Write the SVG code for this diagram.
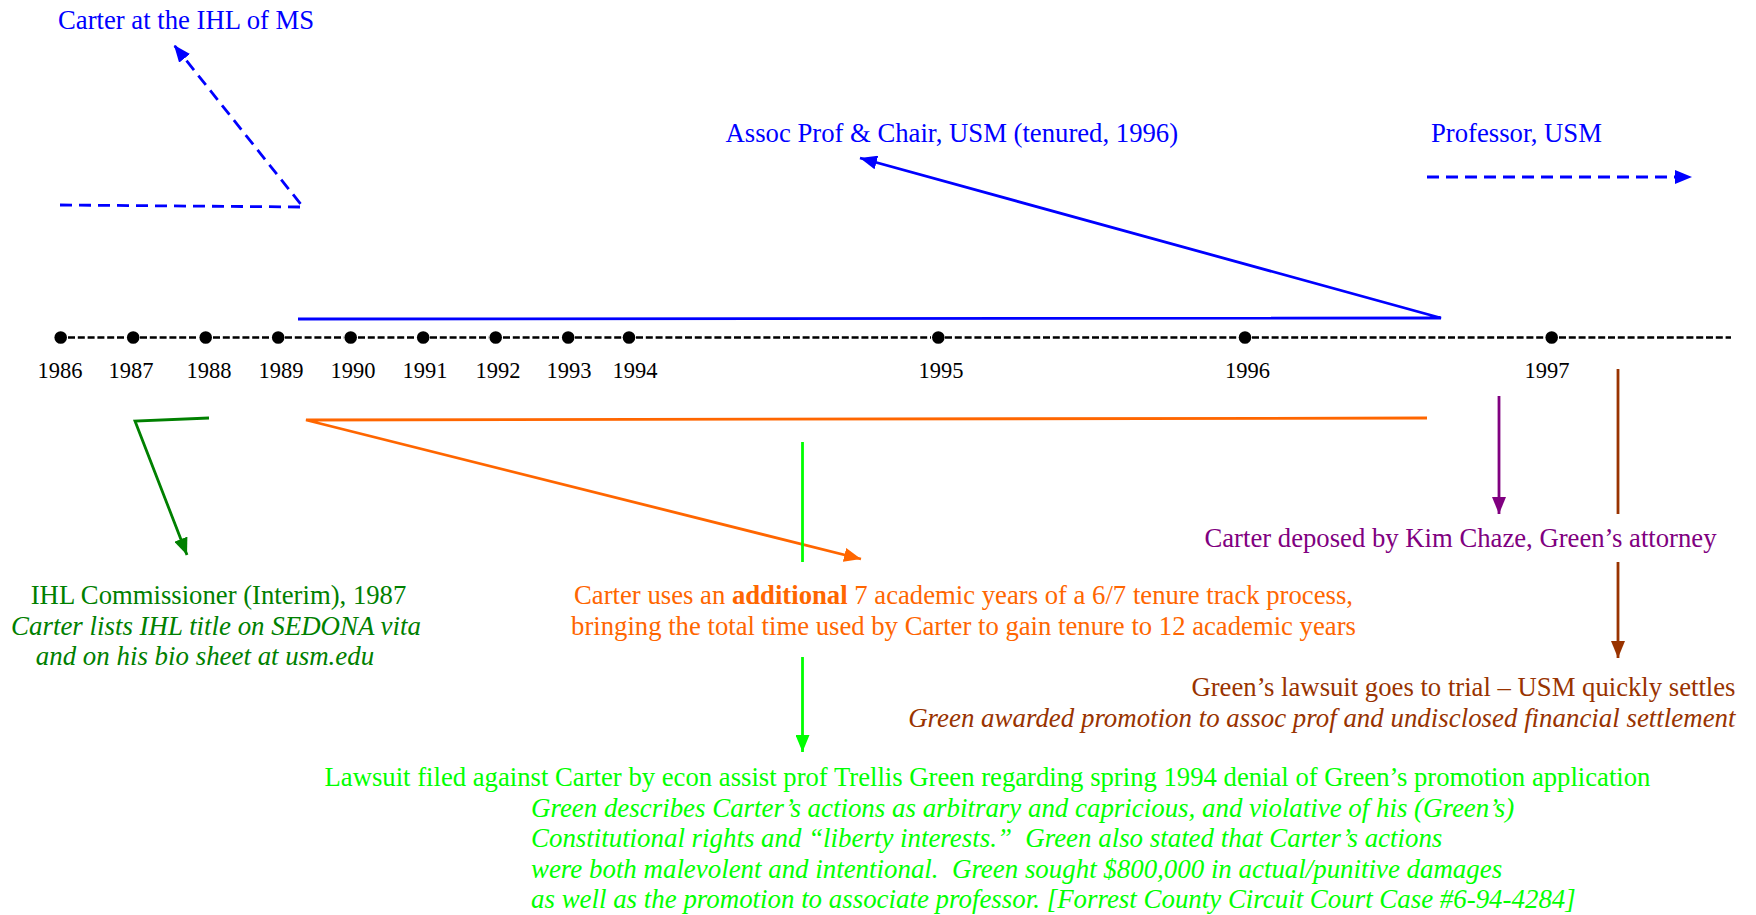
<svg xmlns="http://www.w3.org/2000/svg" width="1756" height="915" viewBox="0 0 1756 915">
<style>
text{font-family:"Liberation Serif","Times New Roman",serif;font-size:26.7px}
.yr{font-size:22.5px;fill:#000;text-anchor:middle}
.blue{fill:#0000FF}
.it{font-style:italic;font-size:26.9px}
.tl{stroke:#000;stroke-width:2.4;stroke-dasharray:7 2.8;fill:none}
.ln{fill:none;stroke-width:2.8}
</style>
<defs>
<marker id="aB" markerUnits="userSpaceOnUse" markerWidth="18" markerHeight="14" refX="17" refY="7" orient="auto"><path d="M0,0 L17,7 L0,14 z" fill="#0000FF"/></marker>
<marker id="aG" markerUnits="userSpaceOnUse" markerWidth="18" markerHeight="14" refX="17" refY="7" orient="auto"><path d="M0,0 L17,7 L0,14 z" fill="#008000"/></marker>
<marker id="aO" markerUnits="userSpaceOnUse" markerWidth="18" markerHeight="14" refX="17" refY="7" orient="auto"><path d="M0,0 L17,7 L0,14 z" fill="#FF6600"/></marker>
<marker id="aL" markerUnits="userSpaceOnUse" markerWidth="18" markerHeight="14" refX="17" refY="7" orient="auto"><path d="M0,0 L17,7 L0,14 z" fill="#00FF00"/></marker>
<marker id="aP" markerUnits="userSpaceOnUse" markerWidth="18" markerHeight="14" refX="17" refY="7" orient="auto"><path d="M0,0 L17,7 L0,14 z" fill="#800080"/></marker>
<marker id="aR" markerUnits="userSpaceOnUse" markerWidth="18" markerHeight="14" refX="17" refY="7" orient="auto"><path d="M0,0 L17,7 L0,14 z" fill="#993300"/></marker>
</defs>
<rect width="1756" height="915" fill="#fff"/>

<g id="timeline">
<path class="tl" d="M68,337.5 H126 M140,337.5 H198 M213,337.5 H271 M285,337.5 H344 M358,337.5 H416 M430,337.5 H489 M503,337.5 H561 M575,337.5 H622 M636,337.5 H931 M945,337.5 H1238 M1252,337.5 H1545 M1559,337.5 H1731"/>
<g fill="#000">
<circle cx="60.7" cy="337.5" r="6.3"/><circle cx="133.2" cy="337.5" r="6.3"/><circle cx="205.7" cy="337.5" r="6.3"/><circle cx="278.2" cy="337.5" r="6.3"/><circle cx="350.7" cy="337.5" r="6.3"/><circle cx="423.2" cy="337.5" r="6.3"/><circle cx="495.7" cy="337.5" r="6.3"/><circle cx="568.2" cy="337.5" r="6.3"/><circle cx="629" cy="337.5" r="6.3"/><circle cx="938.3" cy="337.5" r="6.3"/><circle cx="1245" cy="337.5" r="6.3"/><circle cx="1551.7" cy="337.5" r="6.3"/>
</g>
<text class="yr" x="60" y="378">1986</text>
<text class="yr" x="131" y="378">1987</text>
<text class="yr" x="209" y="378">1988</text>
<text class="yr" x="281" y="378">1989</text>
<text class="yr" x="353" y="378">1990</text>
<text class="yr" x="425" y="378">1991</text>
<text class="yr" x="498" y="378">1992</text>
<text class="yr" x="569" y="378">1993</text>
<text class="yr" x="635" y="378">1994</text>
<text class="yr" x="941" y="378">1995</text>
<text class="yr" x="1247.5" y="378">1996</text>
<text class="yr" x="1547" y="378">1997</text>
</g>

<g id="connectors">
<path class="ln" stroke="#0000FF" stroke-width="3" stroke-dasharray="12 7" d="M60,205 L303,207 L174,45" marker-end="url(#aB)"/>
<path class="ln" stroke="#0000FF" d="M298,319 L1441,318 L860,158" marker-end="url(#aB)"/>
<path class="ln" stroke="#0000FF" stroke-width="3" stroke-dasharray="12 7" d="M1427,177 L1692,177" marker-end="url(#aB)"/>
<path class="ln" stroke="#008000" d="M209,418 L135,421 L187,555" marker-end="url(#aG)"/>
<path class="ln" stroke="#FF6600" d="M1427,418 L306,420 L861,559" marker-end="url(#aO)"/>
<path class="ln" stroke="#00FF00" stroke-width="2.4" d="M802.5,442 V562"/>
<path class="ln" stroke="#00FF00" stroke-width="2.4" d="M802.5,657 V752" marker-end="url(#aL)"/>
<path class="ln" stroke="#800080" d="M1499,396 V514" marker-end="url(#aP)"/>
<path class="ln" stroke="#993300" d="M1618,369 V514"/>
<path class="ln" stroke="#993300" d="M1618,562 V658" marker-end="url(#aR)"/>
</g>

<g id="ihl-ms">
<text class="blue" x="58" y="29">Carter at the IHL of MS</text>
</g>
<g id="assoc-prof">
<text class="blue" x="725.5" y="142">Assoc Prof &amp; Chair, USM (tenured, 1996)</text>
</g>
<g id="professor">
<text class="blue" x="1431" y="142">Professor, USM</text>
</g>
<g id="ihl-commissioner" fill="#008000" text-anchor="middle">
<text x="218.5" y="604">IHL Commissioner (Interim), 1987</text>
<text class="it" x="216" y="635">Carter lists IHL title on SEDONA vita</text>
<text class="it" x="205" y="665">and on his bio sheet at usm.edu</text>
</g>
<g id="tenure" fill="#FF6600" text-anchor="middle">
<text x="963.5" y="604">Carter uses an <tspan font-weight="bold">additional</tspan> 7 academic years of a 6/7 tenure track process,</text>
<text x="963.5" y="635">bringing the total time used by Carter to gain tenure to 12 academic years</text>
</g>
<g id="deposed" fill="#800080">
<text x="1460.5" y="547" text-anchor="middle">Carter deposed by Kim Chaze, Green’s attorney</text>
</g>
<g id="trial" fill="#993300" text-anchor="end">
<text x="1735.5" y="696">Green’s lawsuit goes to trial – USM quickly settles</text>
<text class="it" x="1735.5" y="727">Green awarded promotion to assoc prof and undisclosed financial settlement</text>
</g>
<g id="lawsuit" fill="#00FF00">
<text x="987.5" y="786" text-anchor="middle">Lawsuit filed against Carter by econ assist prof Trellis Green regarding spring 1994 denial of Green’s promotion application</text>
<text class="it" x="531" y="816.5">Green describes Carter’s actions as arbitrary and capricious, and violative of his (Green’s)</text>
<text class="it" x="531" y="847" xml:space="preserve">Constitutional rights and “liberty interests.”  Green also stated that Carter’s actions</text>
<text class="it" x="531" y="877.5" xml:space="preserve">were both malevolent and intentional.  Green sought $800,000 in actual/punitive damages</text>
<text class="it" x="531" y="908">as well as the promotion to associate professor. [Forrest County Circuit Court Case #6-94-4284]</text>
</g>
</svg>
